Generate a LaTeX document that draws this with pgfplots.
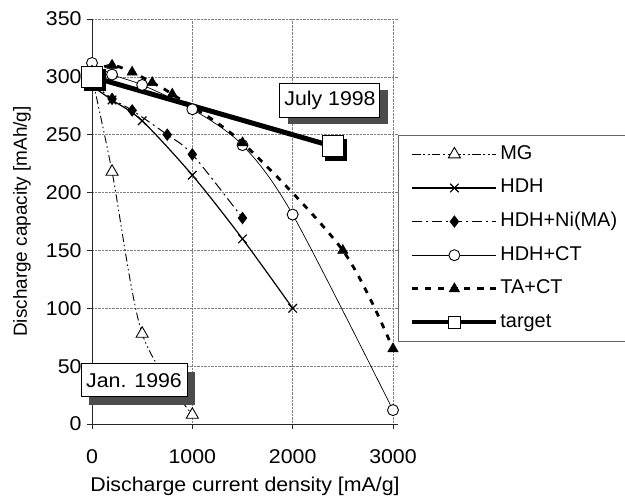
\documentclass[border=0pt]{standalone}
\usepackage{fontspec}
\setmainfont{Liberation Sans}[FakeStretch=1.07]
\newfontfamily\ylfont{Liberation Sans}
\usepackage{pgfplots}
\pgfplotsset{compat=1.18}
\pgfplotsset{
  mylegend/.style={legend image code/.code={\draw[mark repeat=2,mark phase=2,##1] plot coordinates {(0bp,0bp)(42bp,0bp)(84bp,0bp)};}},
  targetlegend/.style={legend image code/.code={\draw[mark repeat=2,mark phase=2,##1, line width=4bp, mark size=6bp] plot coordinates {(0bp,0bp)(42bp,0bp)(84bp,0bp)};}},
}
\begin{document}
\begin{tikzpicture}
\useasboundingbox (-92bp,-74bp) rectangle (533bp,424bp);
\begin{axis}[
  scale only axis, width=306bp, height=405bp,
  xmin=0, xmax=3050, ymin=0, ymax=350,
  axis x line*=bottom, axis y line*=left,
  xtick={0,1000,2000,3000}, ytick={0,50,...,350},
  grid=major, grid style={densely dotted, black!50, line width=0.6bp},
  axis line style={black!85, line width=0.8bp, -},
  tick style={black!85, line width=0.8bp},
  tick align=outside, major tick length=5bp,
  /pgf/number format/assume math mode=true,
  /pgf/number format/1000 sep={},
  ticklabel style={font=\fontsize{20}{24}\selectfont},
  xticklabel style={anchor=base, yshift=-34bp},
  yticklabel style={anchor=east, xshift=-2bp},
  xlabel={Discharge current density [mA/g]},
  ylabel={Discharge capacity [mAh/g]},
  every axis x label/.style={at={(axis description cs:0.5,0)}, anchor=base, yshift=-67bp, font=\fontsize{20}{24}\selectfont},
  every axis y label/.style={at={(axis description cs:0,0.5)}, anchor=center, xshift=-70bp, rotate=90, font=\ylfont\fontsize{19}{22}\selectfont},
  clip=false,
  mylegend,
  legend cell align=left,
  legend style={at={(1,0.7136)}, anchor=north west, draw=black!60, line width=0.8bp, fill=white,
    font=\ylfont\fontsize{20}{24}\selectfont, inner xsep=12bp, inner ysep=8bp, row sep=11.6bp,
    nodes={inner sep=2bp, text height=14bp, text depth=4bp}},
]
% MG
\addplot[black, line width=0.9bp, dash pattern=on 8bp off 3bp on 1.5bp off 3bp on 1.5bp off 3bp, smooth,
  mark=triangle*, mark size=7bp, mark options={solid, fill=white, line width=0.9bp}]
  coordinates {(0,300) (200,218) (500,78) (1000,8)};
\addlegendentry{MG}
% HDH
\addplot[black, line width=1.2bp, smooth, mark=x, mark size=6bp, mark options={solid, line width=1.2bp}]
  coordinates {(0,292) (200,280) (500,262) (1000,215) (1500,160) (2000,100)};
\addlegendentry{HDH}
% HDH+Ni(MA)
\addplot[black, line width=1bp, dash pattern=on 10bp off 4bp on 2bp off 4bp, smooth,
  mark=diamond*, mark size=5.5bp, mark options={solid}]
  coordinates {(0,295) (200,281) (400,271) (750,250) (1000,233) (1500,178)};
\addlegendentry{HDH+Ni(MA)}
% HDH+CT
\addplot[black, line width=0.7bp, smooth, mark=*, mark size=5.5bp, mark options={solid, fill=white, line width=0.9bp}]
  coordinates {(0,312) (200,302) (500,293) (1000,272) (1500,241) (2000,181) (3000,12)};
\addlegendentry{HDH+CT}
% TA+CT
\addplot[black, line width=2.8bp, dash pattern=on 6bp off 7bp, smooth,
  mark=triangle*, mark size=6bp, mark options={solid, line width=0.5bp}]
  coordinates {(0,305) (200,310) (400,304) (600,295) (800,285) (1500,243) (2500,150) (3000,65)};
\addlegendentry{TA+CT}
% target shadow
\addplot[forget plot, only marks, black, mark=square*, mark size=10.5bp, mark options={xshift=3bp, yshift=-3bp}]
  coordinates {(0,300) (2400,240)};
% target
\addplot[black, line width=5bp, mark=square*, mark size=10.5bp, mark options={solid, fill=white, line width=1.2bp}, targetlegend]
  coordinates {(0,300) (2400,240)};
\addlegendentry{target}

\node[fill=black!70, minimum width=100bp, minimum height=34bp, inner sep=0pt, xshift=8bp, yshift=-7bp] at (axis cs:2372,280) {};
\node[draw=black, line width=1bp, fill=white, minimum width=100bp, minimum height=34bp, inner sep=0pt,
  font=\fontsize{20}{24}\selectfont] at (axis cs:2372,280) {July 1998};
\node[fill=black!70, minimum width=106bp, minimum height=33bp, inner sep=0pt, xshift=8bp, yshift=-8bp] at (axis cs:419,37.6) {};
\node[draw=black, line width=1bp, fill=white, minimum width=106bp, minimum height=33bp, inner sep=0pt,
  font=\fontsize{20}{24}\selectfont] at (axis cs:419,37.6) {Jan. 1996};
\end{axis}
\end{tikzpicture}
\end{document}
